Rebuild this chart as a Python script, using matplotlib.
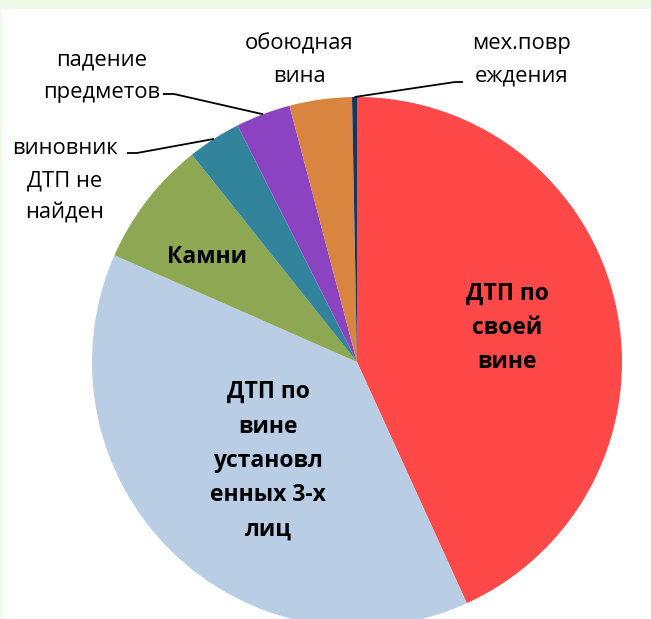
import matplotlib
matplotlib.use("Agg")
import matplotlib.pyplot as plt
import numpy as np
from matplotlib.patches import Rectangle

# Data (shares, %)
categories = ["ДТП по своей вине", "ДТП по вине установленных 3-х лиц", "Камни",
              "виновник ДТП не найден", "падение предметов", "обоюдная вина",
              "мех.повреждения"]
values = [43.2, 38.4, 7.7, 3.25, 3.35, 3.8, 0.3]
colors = ["#FF4949", "#B9CDE5", "#8DA753", "#31849B", "#8C43C2", "#D98540", "#17375E"]
labels_in = {0: "ДТП по\nсвоей\nвине", 1: "ДТП по\nвине\nустановл\nенных 3-х\nлиц", 2: "Камни"}
labels_out = {3: "виновник\nДТП не\nнайден", 4: "падение\nпредметов",
              5: "обоюдная\nвина", 6: "мех.повр\nеждения"}

W, H = 651, 619
CX, CY, R = 357, 362, 265
fig = plt.figure(figsize=(W / 100, H / 100), dpi=100)
fig.patch.set_facecolor("#EEF9E8")
fig.add_artist(Rectangle((2 / W, 0), 1, 1 - 9 / H, transform=fig.transFigure,
                         facecolor="white", edgecolor="none", zorder=0))
ax = fig.add_axes([0, 0, 1, 1])
ax.set_facecolor("none")
plt.rcParams['font.family'] = ['Open Sans', 'DejaVu Sans']

wedges, _ = ax.pie(values, colors=colors, startangle=90, counterclock=False,
                   radius=1, center=(0, 0), wedgeprops=dict(linewidth=0))
ax.set_aspect('auto')
ax.set_xlim(-CX / R, (W - CX) / R)
ax.set_ylim(-(H - CY) / R, CY / R)
ax.axis('off')


def px(x, y):
    return (x - CX) / R, (CY - y) / R


fs_in = 16.5
fs_out = 15.8
# inside labels
in_pos = {0: (507, 328), 1: (268, 461), 2: (207, 257)}
for i, t in labels_in.items():
    ax.text(*px(*in_pos[i]), t, ha='center', va='center', fontsize=fs_in,
            fontweight='bold', linespacing=1.58, color='black')

# outside labels
out_pos = {3: (65, 181), 4: (102, 76), 5: (299, 60), 6: (522, 60)}
for i, t in labels_out.items():
    ax.text(*px(*out_pos[i]), t, ha='center', va='center', fontsize=fs_out,
            linespacing=1.7, color='black')

# leader lines: from label anchor to wedge mid-angle on edge
anchors = {3: ((127, 153), (137, 153)), 4: ((163, 94), (174, 94)),
           6: ((463, 82), (455, 82))}
for i, (a, b) in anchors.items():
    w = wedges[i]
    ang = np.deg2rad((w.theta1 + w.theta2) / 2)
    ex, ey = np.cos(ang), np.sin(ang)
    ax.plot([px(*a)[0], px(*b)[0], ex], [px(*a)[1], px(*b)[1], ey],
            color='black', lw=1.3, solid_capstyle='butt')

fig.savefig("out.png", dpi=100, facecolor=fig.get_facecolor())
